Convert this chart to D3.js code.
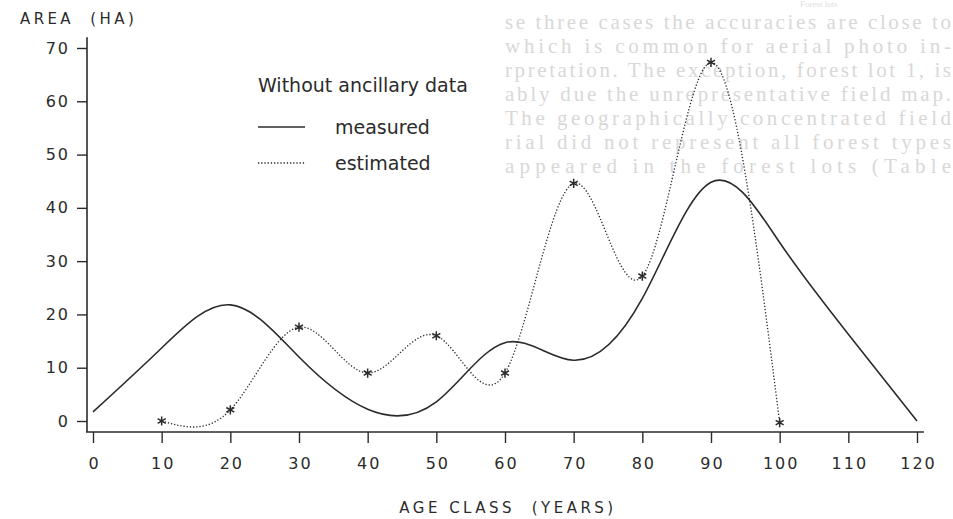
<!doctype html>
<html>
<head>
<meta charset="UTF-8">
<title>area by age class</title>
<script src="https://cdn.jsdelivr.net/npm/d3@7"></script>
<style>
  body { margin: 0; background: #fff; }
  svg text { font-family: "DejaVu Sans", sans-serif; }
</style>
</head>
<body>
<svg width="953" height="519"></svg>
<script>
// age classes (years) and areas (ha)
var ageMeasured = [0, 10, 20, 30, 40, 50, 60, 70, 80, 90, 100, 110, 120];
var areaMeasured = [1.7, 13.7, 21.8, 12.0, 2.2, 3.6, 14.7, 11.4, 23.0, 44.8, 33.5, 16.3, 0];

var ageEstimated = [10, 20, 30, 40, 50, 60, 70, 80, 90, 100];
var areaEstimated = [0, 2.1, 17.6, 9.0, 16.0, 9.0, 44.6, 27.2, 67.3, -0.3];

var xTicks = [0, 10, 20, 30, 40, 50, 60, 70, 80, 90, 100, 110, 120];
var yTicks = [0, 10, 20, 30, 40, 50, 60, 70];

var legendTitle = "Without ancillary data";
var legendNames = ["measured", "estimated"];

// faint show-through from the other side of the page
var ghostLines = [
  "se three cases the accuracies are close to",
  "which is common for aerial photo in-",
  "rpretation. The exception, forest lot 1, is",
  "ably due the unrepresentative field map.",
  "The geographically concentrated field",
  "rial did not represent all forest types",
  "appeared in the forest lots (Table"
];

var ink = "#2b2b2b";
var svg = d3.select("svg");

var x = d3.scaleLinear().domain([0, 120]).range([93, 917]);
var y = d3.scaleLinear().domain([0, 70]).range([421, 48]);

// ghost text
svg.append("g").selectAll("text")
  .data(ghostLines)
  .enter().append("text")
  .attr("x", 505)
  .attr("y", function(d, i){ return 29 + i * 24; })
  .attr("textLength", 446)
  .style("font-family", "'Liberation Serif', serif")
  .style("font-size", "21px")
  .attr("fill", "#d8d8d8")
  .text(function(d){ return d; });
svg.append("text")
  .attr("x", 800).attr("y", 7)
  .style("font-family", "'Liberation Serif', serif")
  .style("font-size", "9px")
  .attr("fill", "#e0e0e0")
  .text("Forest lots");

// axes
var yAxis = d3.axisLeft(y).tickValues(yTicks).tickSize(10).tickPadding(7).tickSizeOuter(0);
var xAxis = d3.axisBottom(x).tickValues(xTicks).tickSize(11).tickPadding(15).tickSizeOuter(0);

var gy = svg.append("g").attr("transform", "translate(87,0)").call(yAxis);
var gx = svg.append("g").attr("transform", "translate(0,432)").call(xAxis);

[gx, gy].forEach(function(g){
  g.select(".domain").remove();
  g.selectAll("line").attr("stroke", ink).attr("stroke-width", 1.4);
  g.selectAll("text")
    .attr("fill", ink)
    .style("font-size", "16px")
    .style("letter-spacing", "2px");
});
gx.selectAll("text").attr("dx", "1px");

svg.append("line")
  .attr("x1", 87).attr("x2", 87)
  .attr("y1", y(72)).attr("y2", 432)
  .attr("stroke", ink).attr("stroke-width", 1.6);
svg.append("line")
  .attr("x1", 86).attr("x2", x(121))
  .attr("y1", 432).attr("y2", 432)
  .attr("stroke", ink).attr("stroke-width", 1.6);

// axis titles
svg.append("text")
  .attr("x", 20).attr("y", 24)
  .attr("fill", ink)
  .style("font-size", "15px")
  .style("letter-spacing", "3.4px")
  .style("white-space", "pre")
  .text("AREA  (HA)");
svg.append("text")
  .attr("x", 508).attr("y", 513)
  .attr("text-anchor", "middle")
  .attr("fill", ink)
  .style("font-size", "15px")
  .style("letter-spacing", "3.5px")
  .style("white-space", "pre")
  .text("AGE CLASS  (YEARS)");

// lines
var measured = ageMeasured.map(function(a, i){ return [a, areaMeasured[i]]; });
var estimated = ageEstimated.map(function(a, i){ return [a, areaEstimated[i]]; });

var line = d3.line()
  .x(function(d){ return x(d[0]); })
  .y(function(d){ return y(d[1]); })
  .curve(d3.curveNatural);

svg.append("path")
  .datum(measured)
  .attr("d", line)
  .attr("fill", "none")
  .attr("stroke", ink)
  .attr("stroke-width", 1.6);

svg.append("path")
  .datum(estimated)
  .attr("d", line)
  .attr("fill", "none")
  .attr("stroke", ink)
  .attr("stroke-width", 1.3)
  .attr("stroke-dasharray", "1.3,1.9");

// asterisks
var r = 4.6;
function asterisk(cx, cy){
  var p = "M" + cx + "," + (cy - r) + "L" + cx + "," + (cy + r);
  var dx = r * Math.cos(Math.PI / 6), dy = r * Math.sin(Math.PI / 6);
  p += "M" + (cx - dx) + "," + (cy - dy) + "L" + (cx + dx) + "," + (cy + dy);
  p += "M" + (cx - dx) + "," + (cy + dy) + "L" + (cx + dx) + "," + (cy - dy);
  return p;
}
svg.append("g").selectAll("path")
  .data(estimated)
  .enter().append("path")
  .attr("d", function(d){ return asterisk(x(d[0]), y(d[1])); })
  .attr("stroke", ink)
  .attr("stroke-width", 1.5);

// legend
svg.append("text")
  .attr("x", 258).attr("y", 92)
  .attr("fill", ink)
  .style("font-size", "19px")
  .text(legendTitle);

var leg = svg.append("g").selectAll("g")
  .data(legendNames)
  .enter().append("g")
  .attr("transform", function(d, i){ return "translate(0," + (127 + i * 36) + ")"; });
leg.append("line")
  .attr("x1", 258).attr("x2", 305)
  .attr("stroke", ink)
  .attr("stroke-width", function(d, i){ return i == 0 ? 1.6 : 1.3; })
  .attr("stroke-dasharray", function(d, i){ return i == 0 ? null : "1.3,1.9"; });
leg.append("text")
  .attr("x", 335).attr("y", 7)
  .attr("fill", ink)
  .style("font-size", "19px")
  .text(function(d){ return d; });
</script>
</body>
</html>
